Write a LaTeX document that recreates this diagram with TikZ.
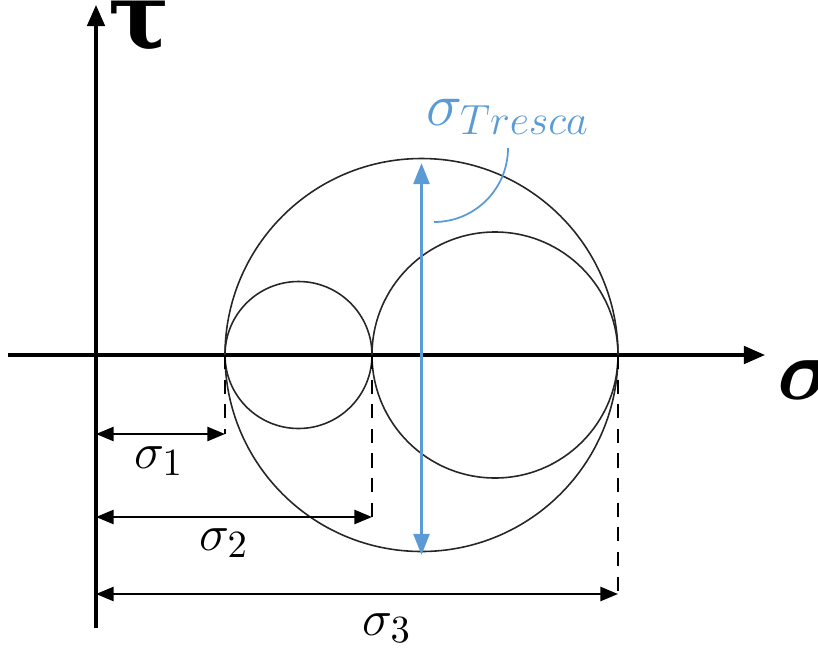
\documentclass[tikz,border=0pt]{standalone}
\usepackage{amsmath,amssymb}
\usepackage{fontspec}
\usepackage{xcolor}
\usepackage{tikz}
\usetikzlibrary{arrows.meta,positioning,calc}
\newfontfamily\greekfont{DejaVu Serif}
\definecolor{accent}{RGB}{91,155,213}
\tikzset{
  axis/.style={line width=0.9pt,-{Triangle[length=6pt,width=5pt]}},
  dim/.style={line width=0.6pt,{Triangle[length=5pt,width=4pt]}-{Triangle[length=5pt,width=4pt]}},
  guide/.style={line width=0.8pt,dash pattern=on 4pt off 3pt},
  mohr/.style={line width=0.45pt,black!85}
}

\begin{document}
\begin{tikzpicture}[x=0.01cm,y=-0.01cm,font=\fontsize{15}{18}\selectfont]
\useasboundingbox (0,0) rectangle (818,648);
% axes
\coordinate (ybot) at (96,628);
\coordinate (ytop) at (96,5);
\coordinate (xl) at (8,355);
\coordinate (xr) at (765,355);
\draw[axis] (ybot) -- (ytop);
\draw[axis] (xl) -- (xr);
\node[font=\greekfont\bfseries\fontsize{26}{30}\selectfont, anchor=base] (tau) at (139,48) {τ};
\node[font=\fontsize{27}{30}\selectfont, anchor=west] (sig) at (765,380) {$\boldsymbol{\sigma}$};
% principal stresses on the axis
\coordinate (p1) at (225,355);
\coordinate (p2) at (372,355);
\coordinate (p3) at (618,355);
% Mohr circles
\draw[mohr] (298.5,355) circle (73.5);
\draw[mohr] (495,355) circle (123);
\draw[mohr] (421.5,355) circle (196.5);
% dimension lines
\foreach \p/\y/\n in {p1/434/1,p2/517/2,p3/594/3}{
  \coordinate (d\n) at (\p |- 0,\y);
  \coordinate (o\n) at (ybot |- 0,\y);
  \draw[guide] (\p) -- (d\n);
  \draw[dim] (o\n) -- (d\n);
}
\node (s1) at (159,461) {$\sigma_1$};
\node (s2) at (224,543) {$\sigma_2$};
\node (s3) at (387,628) {$\sigma_3$};
% Tresca diameter
\coordinate (ttop) at (421.5,163);
\coordinate (tbot) at (421.5,555);
\draw[accent,line width=0.9pt,{Triangle[length=6pt,width=4.5pt]}-{Triangle[length=6pt,width=4.5pt]}] (tbot) -- (ttop);
\node[accent,font=\fontsize{17}{20}\selectfont] (tres) at (508,117) {$\sigma_{Tresca}$};
\coordinate (lead) at (434,222);
\draw[accent,line width=0.5pt] (lead) arc[start angle=90,end angle=0,radius=74];
\end{tikzpicture}
\end{document}
